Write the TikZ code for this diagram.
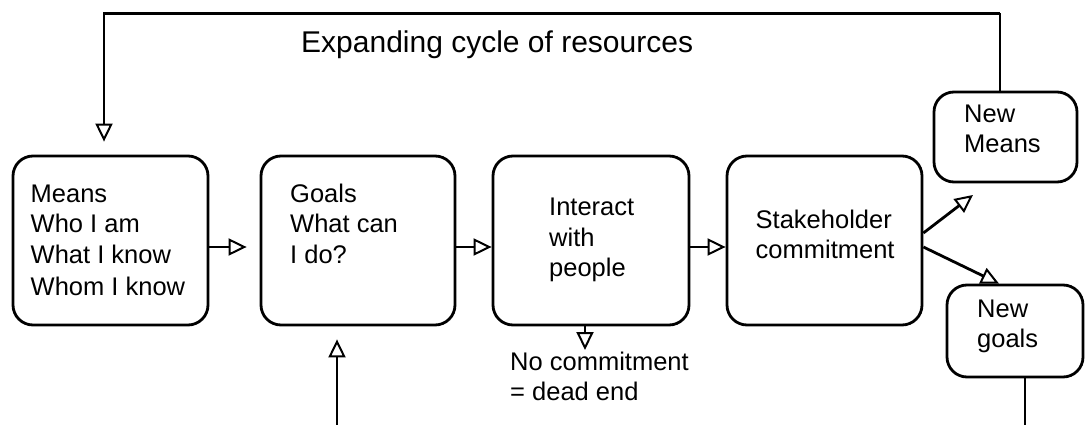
\documentclass[tikz,border=0pt]{standalone}
\usepackage{fontspec}
\setmainfont{Liberation Sans}
\usetikzlibrary{arrows.meta,backgrounds}
\newcommand{\txtlines}[2]{\vtop{\baselineskip=#1\relax #2}}
\begin{document}
\begin{tikzpicture}[x=1pt,y=-1pt,
  box/.style={draw, line width=2.8pt, rounded corners=20pt, fill=white, inner sep=0pt},
  lbl/.style={anchor=base west, inner sep=0pt, font=\fontsize{25.5}{31}\selectfont},
  conn/.style={line width=2.8pt, -{Triangle[open, length=18pt, width=17pt, line width=2pt]}},
  plain/.style={line width=2.8pt}]
\useasboundingbox (0,0) rectangle (1085,425);
% boxes
\node[box, minimum width=195pt, minimum height=169pt] (Means) at (110.5,240.5) {};
\node[box, minimum width=194pt, minimum height=169pt] (Goals) at (358,240.5) {};
\node[box, minimum width=196pt, minimum height=169pt] (Interact) at (591,240.5) {};
\node[box, minimum width=195pt, minimum height=169pt] (Stake) at (824.5,240.5) {};
\node[box, minimum width=143pt, minimum height=90pt] (NewMeans) at (1005.5,137) {};
\node[box, minimum width=136pt, minimum height=92pt] (NewGoals) at (1015,331) {};
% texts
\node[anchor=base west, inner sep=0pt, font=\fontsize{30}{36}\selectfont] (title) at (301,53) {Expanding cycle of resources};
\node[lbl] (tMeans) at (30.5,202) {\txtlines{31pt}{\hbox{Means}\hbox{Who I am}\hbox{What I know}\hbox{Whom I know}}};
\node[lbl] (tGoals) at (290,202) {\txtlines{31pt}{\hbox{Goals}\hbox{What can}\hbox{I do?}}};
\node[lbl] (tInteract) at (549,215) {\txtlines{31pt}{\hbox{Interact}\hbox{with}\hbox{people}}};
\node[lbl] (tStake) at (755.5,228) {\txtlines{30pt}{\hbox{Stakeholder}\hbox{commitment}}};
\node[lbl] (tNewMeans) at (964,123) {\txtlines{30pt}{\hbox{New}\hbox{Means}}};
\node[lbl] (tNewGoals) at (977,317) {\txtlines{30pt}{\hbox{New}\hbox{goals}}};
\node[lbl] (tDead) at (510,370) {\txtlines{30pt}{\hbox{No commitment}\hbox{= dead end}}};
% free ends
\coordinate (nmtip) at (973,195);
\coordinate (deadtip) at (585,350);
\coordinate (bottomin) at (337,425);
\coordinate (bottomout) at (1025,425);
\coordinate (topright) at (1000,13.5);
\coordinate (topleft) at (104,13.5);
% connectors
\begin{scope}[on background layer]
\draw[plain] (topright |- NewMeans.north) -- (topright);
\draw[conn, shorten >=13pt] (topright) -- (topleft) -- (topleft |- Means.north);
\draw[conn, shorten >=13pt] ([yshift=-6.5pt]Means.east) -- ([yshift=-6.5pt]Goals.west);
\draw[conn] ([yshift=-6.5pt]Goals.east) -- ([yshift=-6.5pt]Interact.west);
\draw[conn] ([yshift=-6.5pt]Interact.east) -- ([yshift=-6.5pt]Stake.west);
\draw[conn] ([yshift=7.5pt]Stake.east) -- (nmtip);
\draw[conn] ([yshift=-6.5pt]Stake.east) -- ([xshift=-16pt]NewGoals.north);
\draw[conn] (Interact.south -| deadtip) -- (deadtip);
\draw[conn, shorten >=13pt] (bottomin) -- (Goals.south -| bottomin);
\draw[plain] (NewGoals.south -| bottomout) -- (bottomout);
\end{scope}
\end{tikzpicture}
\end{document}
